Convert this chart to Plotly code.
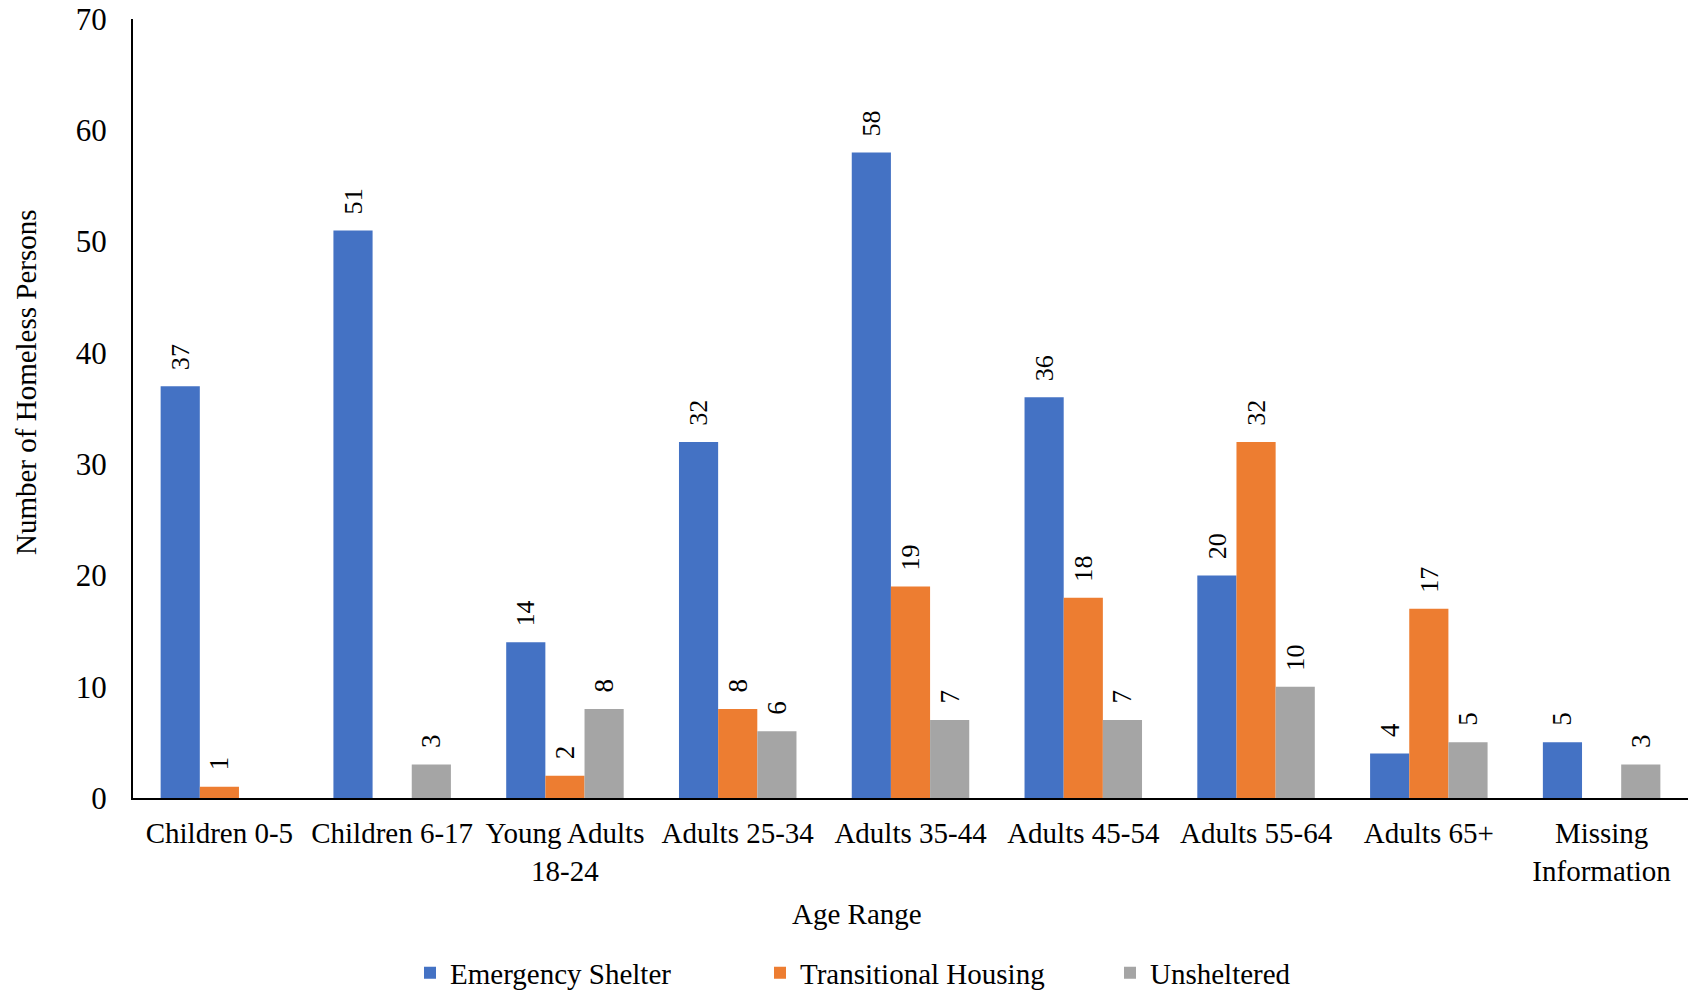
import plotly.graph_objects as go

categories = ["Children 0-5", "Children 6-17", "Young Adults<br>18-24", "Adults 25-34",
              "Adults 35-44", "Adults 45-54", "Adults 55-64", "Adults 65+",
              "Missing<br>Information"]
emergency_shelter = [37, 51, 14, 32, 58, 36, 20, 4, 5]
transitional_housing = [1, None, 2, 8, 19, 18, 32, 17, None]
unsheltered = [None, 3, 8, 6, 7, 7, 10, 5, 3]

series = [("Emergency Shelter", emergency_shelter, "#4472C4"),
          ("Transitional Housing", transitional_housing, "#ED7D31"),
          ("Unsheltered", unsheltered, "#A5A5A5")]

FONT = "Liberation Serif"

W, H = 1688, 992
L, R, T, B = 133, 0, 19, 194
pw, ph = W - L - R, H - T - B
y0 = H - B  # pixel row of the x axis

fig = go.Figure()
for name, vals, color in series:
    fig.add_trace(go.Bar(x=categories, y=vals, name=name,
                         marker=dict(color=color, line=dict(width=0)),
                         text=[("\u00a0\u00a0" + str(v)) if v is not None else "" for v in vals],
                         textposition="outside", textangle=-90,
                         textfont=dict(family=FONT, size=27, color="black"),
                         cliponaxis=False))

fig.update_layout(
    width=W, height=H,
    barmode="group", bargap=0.32, bargroupgap=0,
    plot_bgcolor="white", paper_bgcolor="white",
    font=dict(family=FONT, size=29, color="black"),
    margin=dict(l=L, r=R, t=T, b=B, autoexpand=False),
    showlegend=True,
    legend=dict(orientation="h", x=(410 - L) / pw, xanchor="left",
                y=-(973 - y0) / ph, yanchor="middle",
                entrywidth=305, font=dict(family=FONT, size=29),
                itemwidth=30, traceorder="normal"),
    annotations=[
        dict(text="Age Range", x=(857 - L) / pw, xref="paper", xanchor="center",
             y=-(914 - y0) / ph, yref="paper", yanchor="middle",
             showarrow=False, font=dict(family=FONT, size=29)),
        dict(text="Number of Homeless Persons", x=(26 - L) / pw, xref="paper",
             xanchor="center", y=(y0 - 382) / ph, yref="paper", yanchor="middle",
             textangle=-90, showarrow=False, font=dict(family=FONT, size=29)),
    ],
)

fig.update_xaxes(showline=True, linecolor="black", linewidth=2, ticks="",
                 showgrid=False, ticklabelstandoff=8,
                 tickfont=dict(family=FONT, size=29))
fig.update_yaxes(showline=True, linecolor="black", linewidth=2, ticks="",
                 showgrid=False, range=[0, 70], dtick=10, zeroline=False,
                 ticklabelstandoff=18, tickfont=dict(family=FONT, size=31))

fig.write_html("out.html", config={"displayModeBar": False},
               post_script="document.body.style.margin='0';")
